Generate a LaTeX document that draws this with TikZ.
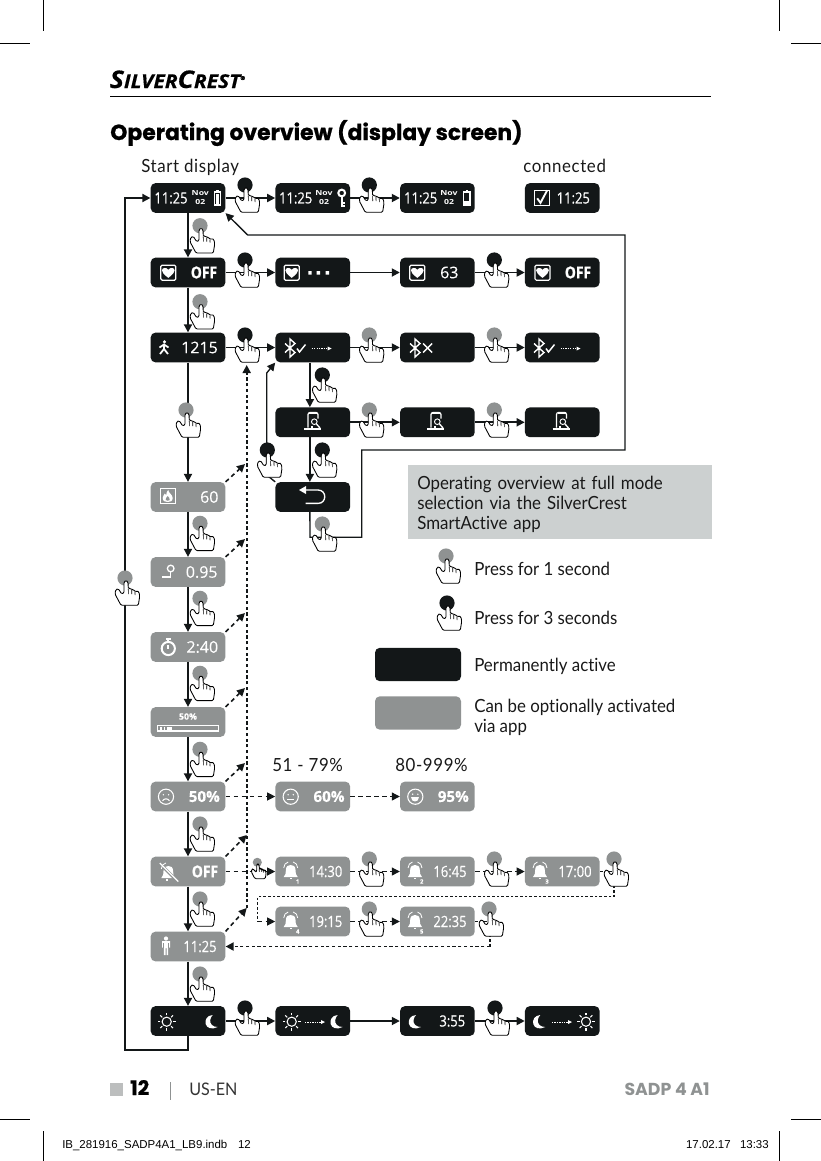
\documentclass[tikz,border=0pt]{standalone}
\usepackage{fontspec}
\usetikzlibrary{arrows.meta,calc}
\setmainfont{Poppins}
\newfontfamily\titlef[FakeBold=.7]{Poppins}
\newfontfamily\bodyf[FakeStretch=0.93,Ligatures=NoCommon]{Lato}
\newfontfamily\bodyw[FakeStretch=0.93,Ligatures=NoCommon,LetterSpace=3.5]{Lato}
\newfontfamily\dispf[FakeBold=.2]{Open Sans}
\newfontfamily\novf[FakeStretch=1.25]{Open Sans}
\newfontfamily\narrf[FakeStretch=0.84,FakeBold=.5]{Open Sans}
\newfontfamily\logof[FakeStretch=1.1,FakeBold=.5]{Open Sans}
\newfontfamily\metaf{Liberation Sans}
\definecolor{dk}{HTML}{131718}
\definecolor{gy}{HTML}{8F9292}
\definecolor{pale}{HTML}{CCD0D0}
\newcommand\handdraw[2]{%
  \begin{scope}[scale=#2]
  \fill[#1] (0,0) circle[radius=7.6];
  \draw[black,fill=white,line width=.65pt,line join=round,rounded corners=.9pt]
   (-4,27.3)--(-10,16)--(-9.3,11.7)--(-6.7,10.7)--(-3.3,16)--(-1,15)--(-1,4)--(1,2.3)--(3,4)--(3.3,10.7)--(5.3,10)--(6.7,12)--(8.7,11.3)--(10,14)--(12,12.7)--(14,14)--(14.7,18.3)--(13.3,27.3)--cycle;
  \draw[black,line width=.5pt] (3.3,10.7)--(3.4,16) (6.7,12)--(6.8,16) (10,14)--(10.1,17);
  \end{scope}}
\newcommand\heartpath{(0,4.5) .. controls (-4,1.5) and (-5.5,-.5) .. (-5.5,-2) .. controls (-5.5,-4.5) and (-1.5,-5) .. (0,-2.5) .. controls (1.5,-5) and (5.5,-4.5) .. (5.5,-2) .. controls (5.5,-.5) and (4,1.5) .. (0,4.5)}
\newcommand\moonpath{(1,-7) .. controls (-5,-6.5) and (-7,-2) .. (-6,2) .. controls (-5,6) and (0,8) .. (6,5) .. controls (1,5) and (-2,2) .. (-1.5,-2) .. controls (-1.3,-4) and (0,-6) .. (1,-7)}
\newcommand\bellpath{(-7,6) .. controls (-5,4) and (-4.8,2) .. (-4.8,-1) .. controls (-4.8,-5) and (-2.5,-6) .. (0,-6) .. controls (2.5,-6) and (4.8,-5) .. (4.8,-1) .. controls (4.8,2) and (5,4) .. (7,6)--cycle}
\tikzset{
 x=.75pt,y=-.75pt,
 screen/.style={rectangle,rounded corners=3.6pt,minimum width=56pt,minimum height=22.3pt,inner sep=0pt,draw=none},
 darkscr/.style={screen,fill=dk},
 grayscr/.style={screen,fill=gy},
 val/.style={text=white,inner sep=0pt,font=\dispf\fontsize{12}{12}\selectfont},
 nar/.style={text=white,inner sep=0pt,font=\narrf\fontsize{11.6}{11.6}\selectfont},
 narb/.style={text=white,inner sep=0pt,font=\narrf\bfseries\fontsize{12.4}{12.4}\selectfont},
 valb/.style={text=white,inner sep=0pt,font=\dispf\bfseries\fontsize{11.4}{11.4}\selectfont},
 tiny/.style={text=white,inner sep=0pt,font=\novf\bfseries\fontsize{5.2}{7.2}\selectfont,align=center},
 mini/.style={text=white,inner sep=0pt,font=\dispf\bfseries\fontsize{4.4}{5}\selectfont},
 body/.style={inner sep=0pt,anchor=west,align=left,text=black!90,font=\bodyf\fontsize{13.6}{15}\selectfont},
 head/.style={inner sep=0pt,anchor=base west,text=black!90,font=\bodyw\fontsize{13.6}{15}\selectfont},
 conn/.style={draw=dk,line width=1.3pt,-{Triangle[length=6pt,width=6pt]}},
 thin conn/.style={draw=dk,line width=1pt,-{Triangle[length=6pt,width=6pt]}},
 dashA/.style={draw=dk,line width=1.4pt,dash pattern=on 2.4pt off 1.9pt,-{Triangle[length=6pt,width=6pt]}},
 dashD/.style={draw=dk,line width=1.2pt,dash pattern=on 3.2pt off 2.6pt,-{Triangle[length=6pt,width=6pt]}},
 dashB/.style={draw=dk,line width=.8pt,dash pattern=on 3.4pt off 2.6pt,-{Triangle[length=6pt,width=6pt]}},
 dashC/.style={draw=dk,line width=1pt,dash pattern=on 2pt off 1.5pt},
 pics/handg/.style={code={\handdraw{gy}{1}}},
 pics/handd/.style={code={\handdraw{dk}{1}}},
 pics/handgs/.style={code={\handdraw{gy}{.6}}},
 wl/.style={draw=white,line width=.8pt},
 pics/batt/.style={code={\draw[wl,line width=.9pt](-3.2,-6) rectangle (3.2,7);\fill[white](-1.2,-8) rectangle (1.2,-6);\fill[white](-1.6,-4.5) rectangle (1.6,5.5);}},
 pics/battb/.style={code={\draw[wl,line width=.9pt](-3.2,-6) rectangle (3.2,7);\fill[white](-1.2,-8) rectangle (1.2,-6);\fill[white](-3,3) rectangle (3,7);}},
 pics/keyi/.style={code={\draw[wl,line width=1.5pt](0,-5) circle[radius=3.4];\draw[wl,line width=1.5pt](0,-1.5)--(0,9) (0,5)--(3,5) (0,8)--(3,8);}},
 pics/heartbox/.style={code={\draw[wl,line width=.9pt,rounded corners=1pt](-7.5,-7.5) rectangle (7.5,7.5);\fill[white,scale=1.15]\heartpath;}},
 pics/walker/.style={code={\fill[white](.5,-6.2) circle[radius=1.7];\draw[wl,line width=1.3pt](0,-3.5)--(0,1)--(-4,6) (0,1)--(4,6) (-4.5,-.5)--(0,-3.5)--(4.5,-.5);}},
 pics/bt/.style={code={\draw[wl,line width=1.05pt,line join=miter](-5,-4.5)--(5,4.5)--(0,9)--(0,-9)--(5,-4.5)--(-5,4.5);}},
 pics/chk/.style={code={\draw[wl,line width=1.1pt](0,0)--(2.5,3.5)--(8.5,-4);}},
 pics/xmark/.style={code={\draw[wl,line width=1.1pt](-4.5,-4.5)--(4.5,4.5) (-4.5,4.5)--(4.5,-4.5);}},
 pics/dotarrow/.style={code={\draw[white,line width=.7pt,dash pattern=on 1pt off .8pt](0,0)--(16.5,0);\fill[white](16,-2)--(20,0)--(16,2)--cycle;}},
 pics/phonei/.style={code={\draw[wl,line width=.9pt,rounded corners=1.5pt](-5,7)--(-5,-8)--(5,-8)--(5,-2);\draw[wl,line width=1.5pt](-4,-7.8)--(4,-7.8);\draw[wl,line width=.9pt](-9,8.5)--(8,8.5);\draw[wl,line width=.7pt](1.3,1.2) circle[radius=2.8];\draw[wl,line width=1pt](3.4,3.4)--(7,7.5);\fill[white](-2.5,5.5) rectangle (-.5,7);}},
 pics/backi/.style={code={\fill[white](299,490)--(306,486)--(306,494)--cycle;\draw[wl,line width=1pt](305,490)--(318,490) .. controls (327,490) and (327,503.4) .. (318,503.4)--(305.7,503.4);}},
 pics/flamebox/.style={code={\draw[wl,line width=.9pt](-7.5,-7.5) rectangle (7.5,7.5);\fill[white](.5,-6) .. controls (1,-3) and (5,-1) .. (5,2) .. controls (5,5.5) and (2,6) .. (0,6) .. controls (-2,6) and (-5,5.5) .. (-5,2) .. controls (-5,0) and (-3.5,-1) .. (-3,-2.5) .. controls (-2,-1.5) and (-1.5,-1) .. (-1.5,-1) .. controls (-1.5,-3) and (-.5,-5) .. (.5,-6)--cycle;\fill[gy](0,0) .. controls (1,1.5) and (2.5,2.5) .. (2,4) .. controls (1.5,5) and (-1.5,5) .. (-2,4) .. controls (-2.5,2.5) and (-1,1.5) .. (0,0)--cycle;}},
 pics/pini/.style={code={\draw[wl,line width=1pt](0,-3) circle[radius=3.3];\draw[wl,line width=1pt](0,.3)--(0,5.5)--(-8.5,5.5);}},
 pics/watch/.style={code={\draw[wl,line width=1.5pt](0,0) circle[radius=6.6];\draw[wl,line width=1.3pt](-2.5,-9.5)--(2.5,-9.5) (0,-9.5)--(0,-6.6) (0,0)--(0,-4);}},
 pics/sadf/.style={code={\draw[wl](0,0) circle[radius=7.6];\fill[white](-2.6,-2) circle[radius=.8] (2.6,-2) circle[radius=.8];\draw[wl](-3.5,4) .. controls (-1.5,1.5) and (1.5,1.5) .. (3.5,4);}},
 pics/neuf/.style={code={\draw[wl](0,0) circle[radius=7.6];\fill[white](-2.6,-2) circle[radius=.8] (2.6,-2) circle[radius=.8];\draw[wl](-3.5,3)--(3.5,3);}},
 pics/hapf/.style={code={\draw[wl](0,0) circle[radius=7.6];\fill[white](-2.6,-2.5) circle[radius=.8] (2.6,-2.5) circle[radius=.8];\fill[white](-4,.7)--(4,.7) .. controls (4,6) and (-4,6) .. (-4,.7)--cycle;}},
 pics/belli/.style={code={\fill[white]\bellpath;\fill[white](-1,7) rectangle (1,8.2);\draw[wl,line width=.6pt](-7,-3) .. controls (-7,-6) and (-5,-8.5) .. (-2.5,-9) (7,-3) .. controls (7,-6) and (5,-8.5) .. (2.5,-9);}},
 pics/bellx/.style={code={\fill[white]\bellpath;\draw[gy,line width=2.2pt](-8,-8)--(10,10);\draw[wl,line width=.9pt](-8.5,-9)--(10,9.5);\fill[white](-2,7) rectangle (0,8.5);\draw[wl,line width=.6pt](-2.5,-9) .. controls (-5,-8.5) and (-7,-6) .. (-7,-3);}},
 pics/personi/.style={code={\fill[white](0,-7.5) circle[radius=2.1];\fill[white](-4,-5)--(4,-5)--(4,1.5)--(2.2,1.5)--(2.2,9)--(.5,9)--(.5,2)--(-.5,2)--(-.5,9)--(-2.2,9)--(-2.2,1.5)--(-4,1.5)--cycle;\draw[gy,line width=.4pt](-2.4,-3)--(-2.4,1.5) (2.4,-3)--(2.4,1.5);}},
 pics/suni/.style={code={\draw[wl,line width=.8pt](0,0) circle[radius=4.6];\foreach \a in {0,45,...,315}{\draw[wl,line width=.8pt](\a:6.3)--(\a:9);}}},
 pics/mooni/.style={code={\fill[white]\moonpath;}},
 pics/chkbox/.style={code={\draw[wl,line width=.9pt](-7.5,-7.5) rectangle (7.5,7.5);\draw[wl,line width=1.4pt](-4.5,0)--(-1.2,4.5)--(5.5,-8);}},
 pics/bari/.style={code={\draw[wl,line width=.8pt](157.5,725.7) rectangle (218.5,731);\fill[white](160,727)rectangle(161.5,729.8);\fill[white](163.5,727)rectangle(165,729.8);\fill[white](167,727)rectangle(172,729.8);}},
}
\begin{document}
\begin{tikzpicture}
\useasboundingbox (0,0) rectangle (821,1161);
% crop marks
\draw[black,line width=.6pt] (0,43)--(30,43) (791,43)--(821,43) (43,0)--(43,31) (779,0)--(779,31)
 (0,1119)--(30,1119) (791,1119)--(821,1119) (43,1131)--(43,1161) (779,1131)--(779,1161);
% header
\node[inner sep=0pt,anchor=base west,font=\logof\bfseries\itshape] (logo) at (109.5,88) {\fontsize{18.2}{19}\selectfont S\fontsize{14.3}{15}\selectfont ILVER\fontsize{18.2}{19}\selectfont C\fontsize{14.3}{15}\selectfont REST\raisebox{6pt}{\fontsize{4}{4}\selectfont ®}};
\draw[black,line width=.75pt] (110,96.5)--(711,96.5);
\node[inner sep=0pt,anchor=base west,font=\titlef\bfseries\fontsize{16.4}{18}\selectfont] (title) at (110,140) {Operating overview (display screen)};
\node[head] (startl) at (141,172) {Start display};
\node[head] (connl) at (523,172) {connected};
\node[head] (rng1) at (272,771) {51 - 79\%};
\node[head] (rng2) at (395,771) {80-999\%};
% screens
\def\cA{188}\def\cB{312.8}\def\cC{437.4}\def\cD{562.3}
\node[darkscr] (a1) at (\cA,198) {};
\node[darkscr] (a2) at (\cB,198) {};
\node[darkscr] (a3) at (\cC,198) {};
\node[darkscr] (a4) at (\cD,198) {};
\node[darkscr] (b1) at (\cA,272.5) {};
\node[darkscr] (b2) at (\cB,272.5) {};
\node[darkscr] (b3) at (\cC,272.5) {};
\node[darkscr] (b4) at (\cD,272.5) {};
\node[darkscr] (c1) at (\cA,347.5) {};
\node[darkscr] (c2) at (\cB,347.5) {};
\node[darkscr] (c3) at (\cC,347.5) {};
\node[darkscr] (c4) at (\cD,347.5) {};
\node[darkscr] (d2) at (\cB,422.3) {};
\node[darkscr] (d3) at (\cC,422.3) {};
\node[darkscr] (d4) at (\cD,422.3) {};
\node[grayscr] (e1) at (\cA,497) {};
\node[darkscr] (e2) at (\cB,497) {};
\node[grayscr] (f1) at (\cA,572) {};
\node[grayscr] (g1) at (\cA,647) {};
\node[grayscr] (h1) at (\cA,722) {};
\node[grayscr] (i1) at (\cA,796.5) {};
\node[grayscr] (i2) at (\cB,796.5) {};
\node[grayscr] (i3) at (\cC,796.5) {};
\node[grayscr] (j1) at (\cA,871.5) {};
\node[grayscr] (j2) at (\cB,871.5) {};
\node[grayscr] (j3) at (\cC,871.5) {};
\node[grayscr] (j4) at (\cD,871.5) {};
\node[grayscr] (k2) at (\cB,921.5) {};
\node[grayscr] (k3) at (\cC,921.5) {};
\node[grayscr] (k1) at (\cA,946.5) {};
\node[darkscr] (l1) at (\cA,1021) {};
\node[darkscr] (l2) at (\cB,1021) {};
\node[darkscr] (l3) at (\cC,1021) {};
\node[darkscr] (l4) at (\cD,1021) {};
% routing points
\coordinate (loopb) at (125,1050);
\coordinate (r1) at (310,537.3);
\coordinate (r2) at (361.7,537.3);
\coordinate (r3) at (361.7,450);
\coordinate (r4) at (625,450);
\coordinate (r5) at (625,235);
\coordinate (r6) at (247.7,235);
\coordinate (q1) at (266.7,475);
\coordinate (q2) at (266.7,373);
\coordinate (vtop) at (246.7,365);
\coordinate (vbot) at (246.7,908);
\coordinate (v1) at (245,464);
\coordinate (v2) at (245,539);
\coordinate (v3) at (245,613);
\coordinate (v4) at (245,688);
\coordinate (v5) at (245,763);
\coordinate (v6) at (246.7,835);
\coordinate (s1) at (614,871.5);
\coordinate (s2) at (614,896.7);
\coordinate (s3) at (257.7,896.7);
\coordinate (s4) at (257.7,921.5);
\coordinate (t1) at (490,921.5);
\coordinate (t2) at (490,946.5);
% solid connectors
\foreach \p/\q in {a1/a2,a2/a3,a1/b1,b1/b2,b2/b3,b3/b4,b1/c1,c1/c2,c2/c3,c3/c4,c1/e1,d2/d3,d3/d4,e1/f1,f1/g1,g1/h1,h1/i1,i1/j1,j1/k1,k1/l1,l1/l2,l2/l3,l3/l4}
  \draw[conn] (\p) -- (\q);
\draw[conn] ([xshift=-2.2pt]c2.south) -- ([xshift=-2.2pt]d2.north);
\draw[conn] ([xshift=-2.2pt]d2.south) -- ([xshift=-2.2pt]e2.north);
\draw[conn] (l1.south) |- (loopb) |- (a1.west);
\draw[thin conn] ([xshift=-2.2pt]e2.south) -- (r1) -- (r2) -- (r3) -- (r4) -- (r5) -- (r6) -- (a1.south east);
\draw[thin conn] (e2.north west) -- (q1) -- (q2) -- (c2.south west);
% dashed connectors
\draw[dashA] (vbot) -- (vtop);
\foreach \p/\q in {e1/v1,f1/v2,g1/v3,h1/v4,i1/v5,j1/v6,k1/vbot}
  \draw[dashD] (\p.north east) -- (\q);
\foreach \p/\q in {i1/i2,i2/i3,j1/j2,j2/j3,j3/j4,k2/k3}
  \draw[dashB] (\p) -- (\q);
\draw[dashC] (j4.east) -- (s1) -- (s2) -- (s3) -- (s4);
\draw[dashB] (s4) -- (k2.west);
\draw[dashC] (k3.east) -- (t1) -- (t2);
\draw[dashA] (t2) -- (k1.east);
% hands
\foreach \i/\x/\y in {1/245/185,2/369.3/185,3/245/260,4/494.3/260,5/245/335,6/322.3/375,7/322.3/450,8/267.3/450,9/245/1008,10/495/1008,11/447/603}
  \pic (hd\i) at (\x,\y) {handd};
\foreach \i/\x/\y in {1/200/225.7,2/200/301.7,3/369.3/335,4/494.3/335,5/186/410,6/369.3/410,7/494.3/410,8/322.3/524,9/200/523.3,10/200/598.3,11/200/673.3,12/200/749.3,13/200/824,14/200/899,15/200/974,16/125/578,17/369.3/859,18/494.3/859,19/614/859,20/369.3/909,21/489/909,22/446/556}
  \pic (hg\i) at (\x,\y) {handg};
\pic (hs1) at (257.3,862.3) {handgs};
% screen contents: row 1
\node[nar] (t11) at (171,198) {11:25};
\node[tiny] (n11) at (200.3,197.5) {Nov\\02};
\pic (i11) at (217.3,198) {batt};
\node[nar] (t12) at (295.7,198) {11:25};
\node[tiny] (n12) at (324,197.5) {Nov\\02};
\pic (i12) at (341.7,198) {keyi};
\node[nar] (t13) at (420.7,198) {11:25};
\node[tiny] (n13) at (449,197.5) {Nov\\02};
\pic (i13) at (466.7,198) {battb};
\pic (i14) at (541.7,198.3) {chkbox};
\node[nar] (t14) at (573.3,198) {11:25};
% row 2
\pic (i21) at (168.3,272.7) {heartbox};
\node[narb] (t21) at (204,272.5) {OFF};
\pic (i22) at (291.7,272.7) {heartbox};
\fill[white] (308.3,271) rectangle (311.7,274.5) (316.6,271) rectangle (320,274.5) (325.6,271) rectangle (329,274.5);
\pic (i23) at (417.3,272.7) {heartbox};
\node[val] (t23) at (449.3,272.5) {63};
\pic (i24) at (542.5,272.7) {heartbox};
\node[narb] (t24) at (578,272.5) {OFF};
% row 3
\pic (i31) at (164,348) {walker};
\node[val] (t31) at (199.5,347.5) {1215};
\pic (i32) at (290,348) {bt};
\pic (i32c) at (297,348.5) {chk};
\pic (i32d) at (311.7,348.5) {dotarrow};
\pic (i33) at (415,348) {bt};
\pic (i33x) at (427.7,348) {xmark};
\pic (i34) at (539,348) {bt};
\pic (i34c) at (546,348.5) {chk};
\pic (i34d) at (560.5,348.5) {dotarrow};
% row 4
\pic (i42) at (313,420.5) {phonei};
\pic (i43) at (436,420.5) {phonei};
\pic (i44) at (561.5,420.5) {phonei};
% row 5
\pic (i51) at (167.7,496) {flamebox};
\node[val] (t51) at (209.3,497) {60};
\pic (i52) at (0,0) {backi};
% single gray rows
\pic (i61) at (170.7,571.5) {pini};
\node[val] (t61) at (201.7,572) {0.95};
\pic (i71) at (168.3,648.5) {watch};
\node[val] (t71) at (202.3,647) {2:40};
\node[tiny,font=\dispf\bfseries\fontsize{6.6}{7}\selectfont] (t81) at (188,716.5) {50\%};
\pic (i81) at (0,0) {bari};
% faces
\pic (i91) at (166,796.7) {sadf};
\node[valb] (t91) at (204.3,796.5) {50\%};
\pic (i92) at (290.7,796.7) {neuf};
\node[valb] (t92) at (329,796.5) {60\%};
\pic (i93) at (415.3,796.7) {hapf};
\node[valb] (t93) at (453.3,796.5) {95\%};
% alarms
\pic (ia1) at (168.3,872) {bellx};
\node[narb] (ta1) at (205,871.5) {OFF};
\pic (ia2) at (290.7,871) {belli};
\node[nar] (ta2) at (325.7,871.5) {14:30};
\node[mini] (ma2) at (297.7,881.5) {1};
\pic (ia3) at (415,871) {belli};
\node[nar] (ta3) at (450,871.5) {16:45};
\node[mini] (ma3) at (421.7,881.5) {2};
\pic (ia4) at (540,871) {belli};
\node[nar] (ta4) at (575,871.5) {17:00};
\node[mini] (ma4) at (547,881.5) {3};
\pic (ib2) at (290.7,921) {belli};
\node[nar] (tb2) at (325.7,921.5) {19:15};
\node[mini] (mb2) at (297.7,931.5) {4};
\pic (ib3) at (415,921) {belli};
\node[nar] (tb3) at (450,921.5) {22:35};
\node[mini] (mb3) at (421.7,931.5) {5};
\pic (ic1) at (166,946) {personi};
\node[nar] (tc1) at (200,946.5) {11:25};
% bottom row
\pic (il1) at (166.7,1021.7) {suni};
\pic (il1m) at (211.7,1022) {mooni};
\pic (il2) at (291.7,1021.7) {suni};
\pic (il2d) at (305,1022) {dotarrow};
\pic (il2m) at (336.7,1022) {mooni};
\pic (il3) at (415,1022) {mooni};
\node[nar] (tl3) at (452.3,1021) {3:55};
\pic (il4) at (539.3,1022) {mooni};
\pic (il4d) at (552,1022) {dotarrow};
\pic (il4s) at (586,1021.7) {suni};
% info panel and legend
\node[rectangle,fill=pale,minimum width=227.5pt,minimum height=55pt,inner sep=0pt,anchor=north west] (panel) at (408,465) {};
\node[body,text width=225pt] (panelt) at (417,504) {Operating overview at full mode\\selection via the SilverCrest\\SmartActive app};
\node[body] (l1t) at (474,569) {Press for 1 second};
\node[body] (l2t) at (474,618) {Press for 3 seconds};
\node[darkscr,minimum width=64.5pt,minimum height=25pt] (lg1) at (418,664.5) {};
\node[grayscr,minimum width=64.5pt,minimum height=25pt] (lg2) at (418,713) {};
\node[body] (l3t) at (474,666) {Permanently active};
\node[body] (l4t) at (474,717) {Can be optionally activated\\via app};
% footer
\fill[gy!60] (110,1082.7) rectangle (123,1095.5);
\node[inner sep=0pt,anchor=base west,font=\titlef\bfseries\fontsize{15}{15}\selectfont] (pg) at (130,1095) {12};
\draw[gy,line width=.4pt] (170,1082)--(170,1100);
\node[inner sep=0pt,anchor=base west,text=black!80,font=\bodyf\fontsize{13}{13}\selectfont] (lang) at (189,1095) {US-EN};
\node[inner sep=0pt,anchor=base east,text=gy,font=\bfseries\fontsize{13}{13}\selectfont] (model) at (710,1095) {SADP 4 A1};
\node[inner sep=0pt,anchor=base west,font=\metaf\fontsize{8.6}{8.6}\selectfont] (meta1) at (62,1148) {IB\_281916\_SADP4A1\_LB9.indb\hspace{8pt}12};
\node[inner sep=0pt,anchor=base east,font=\metaf\fontsize{8.6}{8.6}\selectfont] (meta2) at (769,1148) {17.02.17\hspace{7pt}13:33};
\end{tikzpicture}
\end{document}
